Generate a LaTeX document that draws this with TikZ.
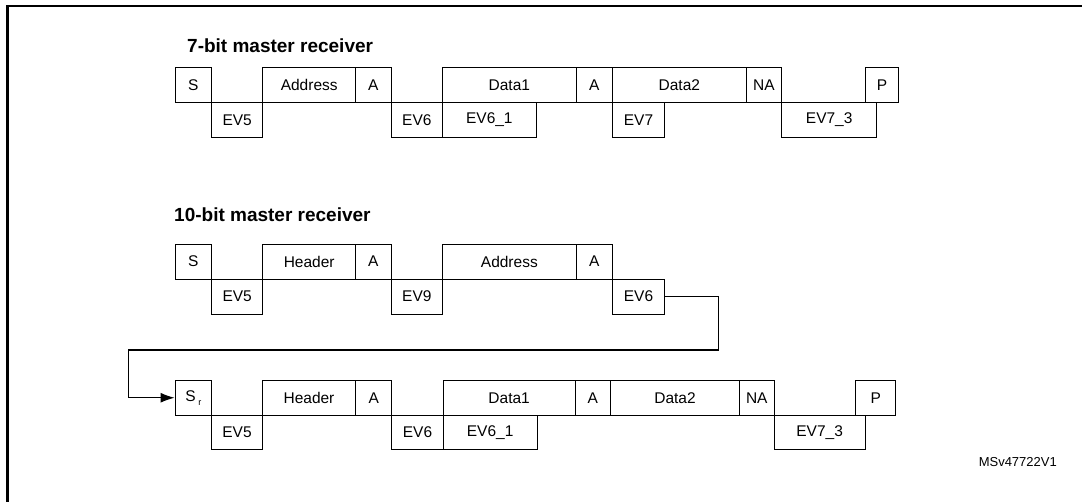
\documentclass[tikz,border=0pt]{standalone}
\usepackage{fontspec}
\setmainfont{Liberation Sans}
\usetikzlibrary{arrows.meta}
\tikzset{
  box/.style={draw, line width=0.9pt, inner sep=0pt, font=\fontsize{15.5}{18}\selectfont},
  ttl/.style={anchor=base west, inner sep=0pt, font=\fontsize{19}{22}\selectfont\bfseries},
  conn/.style={line width=1.1pt, -{Latex[length=14pt,width=10pt]}}
}
\newcommand\bx[6]{\node[box, minimum width={(#4-#2)*1pt}, minimum height={(#5-#3)*1pt}] (#1) at ({(#2+#4)/2},{(#3+#5)/2}) {#6};}
\begin{document}
\begin{tikzpicture}[x=1pt,y=-1pt]
\useasboundingbox (0,0) rectangle (1082,501);
\draw[line width=2.3pt] (7.5,502) -- (7.5,6) -- (1083,6);
% Row 1
\node[ttl] (t1) at (187,52) {7-bit master receiver};
\bx{aS}{175}{67.5}{211.7}{102}{S}
\bx{aEVa}{211.7}{102}{262.7}{137.5}{EV5}
\bx{aAddr}{262.7}{67.5}{355.7}{102}{Address}
\bx{aA1}{355.7}{67.5}{391}{102}{A}
\bx{aEVb}{391}{102}{442.7}{137.5}{EV6}
\bx{aD1}{442.7}{67.5}{576}{102}{Data1}
\bx{aEVc}{442.7}{102}{536}{137.5}{EV6\_1}
\bx{aA2}{576}{67.5}{612.7}{102}{A}
\bx{aD2}{612.7}{67.5}{746}{102}{Data2}
\bx{aEVd}{612.7}{102}{664.3}{137.5}{EV7}
\bx{aNA}{746}{67.5}{781.7}{102}{NA}
\bx{aEVe}{781.7}{102}{876.7}{137.5}{EV7\_3}
\bx{aP}{865.7}{67.5}{898.3}{102}{P}
% Row 2
\node[ttl] (t2) at (174,221) {10-bit master receiver};
\bx{bS}{175}{244}{211.7}{279}{S}
\bx{bEVa}{211.7}{279}{262.7}{314}{EV5}
\bx{bH}{262.7}{244}{355.7}{279}{Header}
\bx{bA1}{355.7}{244}{391}{279}{A}
\bx{bEVb}{391}{279}{442.7}{314}{EV9}
\bx{bAddr}{442.7}{244}{576}{279}{Address}
\bx{bA2}{576}{244}{612.7}{279}{A}
\bx{bEVc}{612.7}{279}{664.3}{314}{EV6}
% Row 3
\bx{cS}{175}{380.5}{211.7}{415}{S\,\raisebox{-0.5ex}{\fontsize{9}{10}\selectfont r}}
\bx{cEVa}{211.7}{415}{262.3}{449.3}{EV5}
\bx{cH}{262.3}{380.5}{355.7}{415}{Header}
\bx{cA1}{355.7}{380.5}{391.7}{415}{A}
\bx{cEVb}{391.7}{415}{443.3}{449.3}{EV6}
\bx{cD1}{443.3}{380.5}{575}{415}{Data1}
\bx{cEVc}{443.3}{415}{537}{449.3}{EV6\_1}
\bx{cA2}{575}{380.5}{610.7}{415}{A}
\bx{cD2}{610.7}{380.5}{739.3}{415}{Data2}
\bx{cNA}{739.3}{380.5}{774.3}{415}{NA}
\bx{cEVe}{774.3}{415}{865}{449.3}{EV7\_3}
\bx{cP}{855.7}{380.5}{895.7}{415}{P}
% connector
\coordinate (k1) at (718.3,350);
\coordinate (k2) at (128.3,350);
\draw[conn] (bEVc.east) -| (k1) -- (k2) |- (cS.west);
\node[anchor=east, inner sep=0pt, font=\fontsize{13}{15}\selectfont] (id) at (1057,462) {MSv47722V1};
\end{tikzpicture}
\end{document}
